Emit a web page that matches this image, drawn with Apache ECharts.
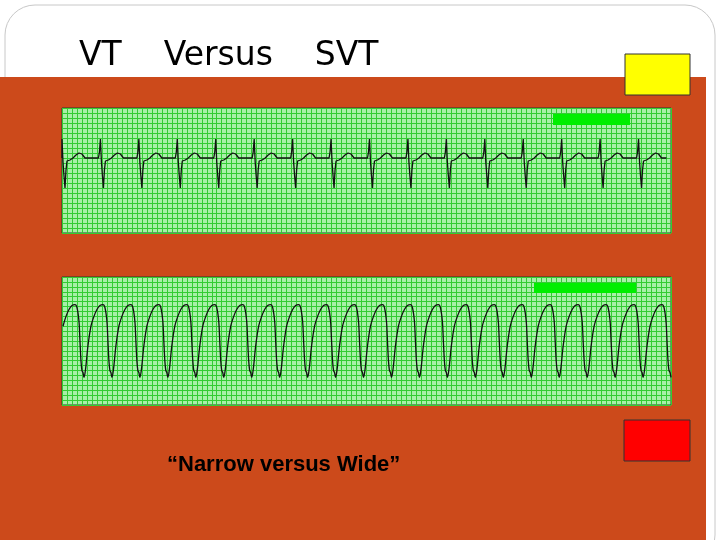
<!DOCTYPE html>
<html><head><meta charset="utf-8">
<script src="https://cdn.jsdelivr.net/npm/echarts@6/dist/echarts.min.js"></script>
<style>html,body{margin:0;padding:0;background:#fff}#c{width:720px;height:540px}</style>
</head><body><div id="c"></div>
<script>
// 窄QRS（上条）单个心搏模板：[x偏移, 幅度]
const narrowBeat = [[0,0],[1,6],[2,19],[3,-4],[4,-18],[5,-30],[6,-12],[7,-3],[10,-2],[13,0],[16,3],[19,5],[22,4],[25,0],[30,0]];
const narrowStarts = [-2,36.5,75,113.5,152,190.5,229,267.5,306,344.5,383,421.5,460,498.5,537,575.5];
// 宽QRS（下条）单周期模板
const wideBeat = [[0,37],[2,34],[4,20],[5,0],[6,-20],[7,-30],[8,-32],[9,-37],[10,-33],[11,-25],[13,-5],[16,15],[19,25],[22,32],[25,36]];
const wideStarts = [-15,13,41,69,97,125,153,181,209,237,265,293,321,349,377,405,433,461,489,517,545,573,601];

function buildTrace(template, starts, lead) {
  const pts = lead ? [lead] : [];
  starts.forEach(s => template.forEach(([dx, v]) => {
    const x = s + dx;
    if (x >= 0 && x <= 610) pts.push([x, v]);
  }));
  return pts;
}

const chart = echarts.init(document.getElementById('c'));
const gridLine = { show: true, lineStyle: { color: '#33cc33', width: 1 } };
const xAx = gi => ({ type: 'value', gridIndex: gi, min: 0, max: 610, interval: 5, axisLabel: { show: false }, axisTick: { show: false }, axisLine: { show: false }, splitLine: gridLine });
const yAx = (gi, min, max) => ({ type: 'value', gridIndex: gi, min, max, interval: 5, axisLabel: { show: false }, axisTick: { show: false }, axisLine: { show: false }, splitLine: gridLine });

chart.setOption({
  animation: false,
  backgroundColor: '#fff',
  graphic: [
    { type: 'rect', z: -10, shape: { x: 5, y: 5, width: 710, height: 560, r: 30 }, style: { fill: '#fff', stroke: '#c8c8c8', lineWidth: 1 } },
    { type: 'rect', z: -9, shape: { x: 0, y: 77, width: 706, height: 470 }, style: { fill: '#cc4a1b' } },
    { type: 'text', left: 79, top: 40, style: { text: 'VT    Versus    SVT', font: '33px "DejaVu Sans"', fill: '#000' } },
    { type: 'rect', shape: { x: 625, y: 54, width: 65, height: 41 }, style: { fill: '#ffff00', stroke: '#333', lineWidth: 1 } },
    { type: 'rect', shape: { x: 624, y: 420, width: 66, height: 41 }, style: { fill: '#ff0000', stroke: '#333', lineWidth: 1 } },
    { type: 'text', left: 167, top: 454, style: { text: '\u201cNarrow versus Wide\u201d', font: 'bold 22px "Liberation Sans"', fill: '#000' } },
    { type: 'rect', z: 20, shape: { x: 553, y: 114, width: 77, height: 11 }, style: { fill: '#00ee00' } },
    { type: 'rect', z: 20, shape: { x: 534, y: 283, width: 102, height: 10 }, style: { fill: '#00ee00' } }
  ],
  grid: [
    { left: 62, top: 108, width: 609, height: 125, show: true, backgroundColor: '#a8f0a8', borderColor: '#333', borderWidth: 1 },
    { left: 62, top: 277, width: 609, height: 128, show: true, backgroundColor: '#a8f0a8', borderColor: '#333', borderWidth: 1 }
  ],
  xAxis: [xAx(0), xAx(1)],
  yAxis: [yAx(0, -75, 50), yAx(1, -65, 65)],
  series: [
    { type: 'line', xAxisIndex: 0, yAxisIndex: 0, showSymbol: false, data: buildTrace(narrowBeat, narrowStarts, [0, 0]), lineStyle: { color: '#111', width: 1.3 } },
    { type: 'line', xAxisIndex: 1, yAxisIndex: 1, showSymbol: false, smooth: 0.3, data: buildTrace(wideBeat, wideStarts, null), lineStyle: { color: '#111', width: 1.3 } }
  ]
});
</script></body></html>
